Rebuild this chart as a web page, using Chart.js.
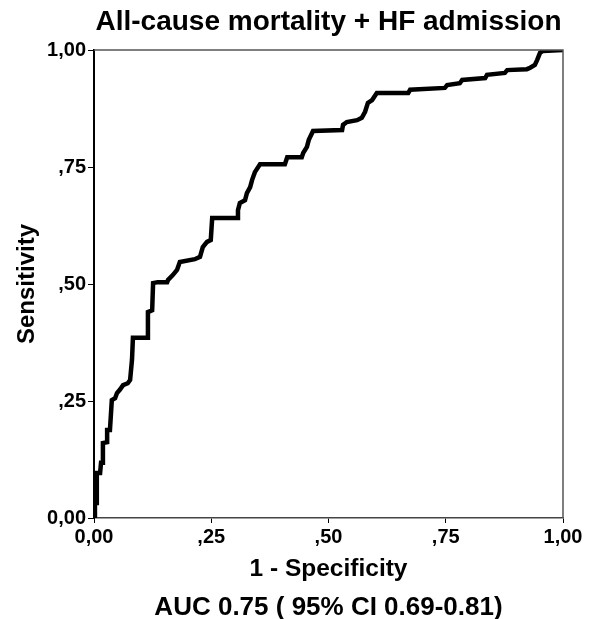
<!DOCTYPE html>
<html>
<head>
<meta charset="utf-8">
<script src="https://cdn.jsdelivr.net/npm/chart.js@4.4.0/dist/chart.umd.min.js"></script>
<style>
  html, body { margin: 0; padding: 0; background: #fff; }
  canvas { display: block; }
</style>
</head>
<body>
<canvas id="roc" width="595" height="619"></canvas>
<script>
// ROC curve (1 - specificity, sensitivity)
const fpr = [0, 0.002, 0.006, 0.006, 0.013, 0.015, 0.019, 0.019, 0.028, 0.028, 0.034, 0.038,
  0.045, 0.049, 0.055, 0.062, 0.072, 0.077, 0.081, 0.083, 0.115, 0.115, 0.124, 0.126,
  0.136, 0.156, 0.158, 0.168, 0.177, 0.183, 0.215, 0.226, 0.232, 0.241, 0.249, 0.252,
  0.305, 0.307, 0.311, 0.322, 0.326, 0.333, 0.337, 0.343, 0.354, 0.407, 0.412, 0.443,
  0.446, 0.454, 0.458, 0.467, 0.529, 0.531, 0.539, 0.561, 0.571, 0.578, 0.584, 0.593,
  0.603, 0.670, 0.674, 0.748, 0.753, 0.780, 0.785, 0.834, 0.838, 0.876, 0.881, 0.923,
  0.930, 0.940, 0.945, 0.951, 0.957, 1];
const tpr = [0, 0.032, 0.032, 0.096, 0.096, 0.118, 0.118, 0.160, 0.162, 0.188, 0.188, 0.252,
  0.256, 0.267, 0.274, 0.284, 0.288, 0.295, 0.338, 0.385, 0.385, 0.440, 0.444, 0.502,
  0.504, 0.504, 0.509, 0.519, 0.530, 0.547, 0.553, 0.558, 0.579, 0.590, 0.594, 0.641,
  0.641, 0.658, 0.673, 0.679, 0.694, 0.707, 0.722, 0.739, 0.756, 0.756, 0.771, 0.771,
  0.780, 0.793, 0.808, 0.827, 0.829, 0.840, 0.846, 0.850, 0.855, 0.868, 0.887, 0.893,
  0.908, 0.908, 0.915, 0.919, 0.925, 0.929, 0.936, 0.940, 0.947, 0.951, 0.957, 0.959,
  0.962, 0.968, 0.979, 0.994, 0.998, 1];
const tickLabels = ['0,00', ',25', ',50', ',75', '1,00'];

const titleText = 'All-cause mortality + HF admission';
const xTitle = '1 - Specificity';
const yTitle = 'Sensitivity';
const aucText = 'AUC 0.75 ( 95% CI 0.69-0.81)';

const FONT = "'Liberation Sans', Arial, sans-serif";

// thin grey frame on top and right, like the original
const framePlugin = {
  id: 'frame',
  afterDraw(chart) {
    const a = chart.chartArea;
    const c = chart.ctx;
    c.save();
    c.strokeStyle = '#555';
    c.lineWidth = 1.5;
    c.beginPath();
    c.moveTo(a.left, a.top);
    c.lineTo(a.right, a.top);
    c.lineTo(a.right, a.bottom);
    c.stroke();
    c.restore();
  }
};

const points = fpr.map((x, i) => ({ x: x, y: tpr[i] }));

new Chart(document.getElementById('roc'), {
  type: 'line',
  data: {
    datasets: [{
      data: points,
      borderColor: '#000',
      borderWidth: 4.5,
      borderJoinStyle: 'miter',
      pointRadius: 0,
      tension: 0,
      fill: false
    }]
  },
  options: {
    responsive: false,
    animation: false,
    layout: { padding: { left: 0, right: 32, top: 0, bottom: 0 } },
    plugins: {
      legend: { display: false },
      tooltip: { enabled: false },
      title: {
        display: true,
        fullSize: false,
        text: titleText,
        color: '#000',
        font: { family: FONT, size: 28, weight: 'bold', lineHeight: 1.2 },
        padding: { top: 5, bottom: 11.4 }
      },
      subtitle: {
        display: true,
        fullSize: false,
        position: 'bottom',
        text: aucText,
        color: '#000',
        font: { family: FONT, size: 26, weight: 'bold', lineHeight: 0.8 },
        padding: { top: 8.8, bottom: 1 }
      }
    },
    scales: {
      x: {
        type: 'linear',
        min: 0,
        max: 1,
        afterFit(scale) { scale.height = 70.4; },
        ticks: {
          stepSize: 0.25,
          color: '#000',
          padding: 2,
          maxRotation: 0,
          font: { family: FONT, size: 20, weight: 'bold' },
          callback: (v, i) => tickLabels[i]
        },
        grid: { drawOnChartArea: false, color: '#000', tickLength: 5 },
        border: { color: '#444', width: 1.5 },
        title: {
          display: true,
          text: xTitle,
          color: '#000',
          font: { family: FONT, size: 24.5, weight: 'bold', lineHeight: 1.2 },
          padding: { top: 4, bottom: 4 }
        }
      },
      y: {
        type: 'linear',
        min: 0,
        max: 1,
        afterFit(scale) { scale.width = 94; },
        ticks: {
          stepSize: 0.25,
          color: '#000',
          padding: 2,
          font: { family: FONT, size: 20, weight: 'bold' },
          callback: (v, i) => tickLabels[i]
        },
        grid: { drawOnChartArea: false, color: '#000', tickLength: 6 },
        border: { color: '#000', width: 2 },
        title: {
          display: true,
          text: yTitle,
          color: '#000',
          font: { family: FONT, size: 24, weight: 'bold', lineHeight: 1.2 },
          padding: { top: 12.6, bottom: 0 }
        }
      }
    }
  },
  plugins: [framePlugin]
});
</script>
</body>
</html>
